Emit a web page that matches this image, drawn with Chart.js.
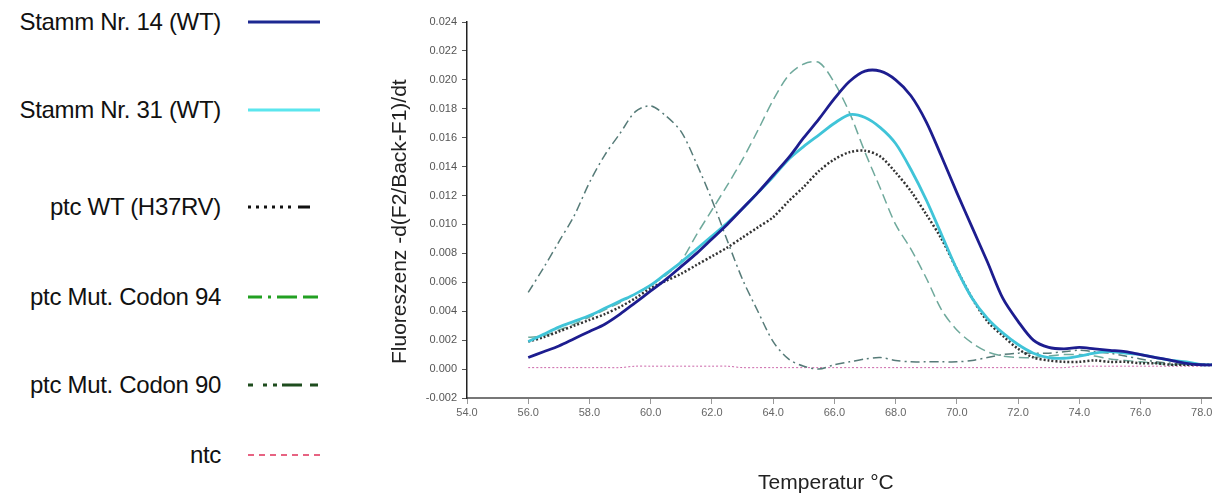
<!DOCTYPE html>
<html>
<head>
<meta charset="utf-8">
<script src="https://cdn.jsdelivr.net/npm/chart.js@4"></script>
<style>
  body { margin: 0; width: 1212px; height: 496px; overflow: hidden; background: #fff; position: relative;
         font-family: "Liberation Sans", Arial, sans-serif; }
  #legende { position: absolute; left: 0; top: 0; width: 340px; height: 496px; }
  .eintrag { position: absolute; left: 0; width: 340px; height: 30px; }
  .eintrag span { position: absolute; right: 119px; top: 0; line-height: 30px; font-size: 24px; color: #111;
                  white-space: nowrap; letter-spacing: -0.3px; }
  .eintrag svg { position: absolute; left: 248px; top: 10px; }
  #schmelzkurve { position: absolute; left: 340px; top: 0; }
</style>
</head>
<body>
<div id="legende"></div>
<canvas id="schmelzkurve" width="900" height="496"></canvas>
<script>
// Temperatur in °C
const temperaturen = [56, 56.5, 57, 57.5, 58, 58.5, 59, 59.5, 60, 60.5, 61, 61.5, 62, 62.5, 63, 63.5,
  64, 64.5, 65, 65.5, 66, 66.5, 67, 67.5, 68, 68.5, 69, 69.5, 70, 70.5, 71, 71.5, 72, 72.5, 73, 73.5,
  74, 74.5, 75, 75.5, 76, 76.5, 77, 77.5, 78, 78.5];

const stamm14 = [0.0008, 0.0012, 0.0016, 0.0021, 0.0026, 0.0031, 0.0038, 0.0046, 0.0054, 0.0062, 0.0071, 0.0080,
  0.0090, 0.0100, 0.0111, 0.0122, 0.0134, 0.0146, 0.0160, 0.0173, 0.0187, 0.0199, 0.0206, 0.0206, 0.0200, 0.0189,
  0.0171, 0.0147, 0.0122, 0.0098, 0.0074, 0.0049, 0.0033, 0.0020, 0.0015, 0.0014, 0.0015, 0.0014, 0.0013, 0.0012,
  0.0010, 0.0008, 0.0006, 0.0004, 0.0003, 0.0003];

const stamm31 = [0.0019, 0.0024, 0.0029, 0.0033, 0.0037, 0.0042, 0.0047, 0.0052, 0.0058, 0.0066, 0.0074, 0.0083,
  0.0092, 0.0101, 0.0111, 0.0122, 0.0133, 0.0145, 0.0154, 0.0162, 0.0170, 0.0176, 0.0174, 0.0167, 0.0156, 0.0138,
  0.0117, 0.0093, 0.0069, 0.0049, 0.0035, 0.0025, 0.0017, 0.0011, 0.0008, 0.00075, 0.0009, 0.0011, 0.0012, 0.0011,
  0.0010, 0.0008, 0.0006, 0.0005, 0.0003, 0.0003];

const ptcWT = [0.0019, 0.0022, 0.0026, 0.0030, 0.0034, 0.0038, 0.0043, 0.0049, 0.0056, 0.0061, 0.0066, 0.0072,
  0.0078, 0.0084, 0.0091, 0.0098, 0.0105, 0.0116, 0.0126, 0.0137, 0.0145, 0.0150, 0.0151, 0.0147, 0.0136, 0.0123,
  0.0107, 0.0090, 0.0069, 0.0049, 0.0033, 0.0023, 0.0014, 0.0008, 0.0006, 0.0005, 0.0005, 0.0006, 0.0005, 0.0005,
  0.0004, 0.0004, 0.0003, 0.0003, 0.0003, 0.0003];

const codon94 = [0.0022, 0.0023, 0.0027, 0.0031, 0.0036, 0.0041, 0.0046, 0.0052, 0.0058, 0.0065, 0.0075, 0.0093,
  0.0110, 0.0127, 0.0145, 0.0165, 0.0186, 0.0203, 0.0211, 0.0212, 0.0198, 0.0177, 0.0150, 0.0125, 0.0100, 0.0083,
  0.0063, 0.0041, 0.0027, 0.0018, 0.0012, 0.0009, 0.0008, 0.0008, 0.0009, 0.0010, 0.0010, 0.0009, 0.0007, 0.0006,
  0.0005, 0.0004, 0.0003, 0.0003, 0.0003, 0.0003];

const codon90 = [0.0053, 0.0070, 0.0088, 0.0106, 0.0129, 0.0148, 0.0163, 0.0178, 0.0182, 0.0175, 0.0164, 0.0142,
  0.0117, 0.0089, 0.0062, 0.0040, 0.0019, 0.0007, 0.0002, 0.0000, 0.0003, 0.0005, 0.0007, 0.0008, 0.0006, 0.0005,
  0.0005, 0.0005, 0.0005, 0.0006, 0.0008, 0.0010, 0.0011, 0.0011, 0.0011, 0.0012, 0.0013, 0.0012, 0.0011, 0.0009,
  0.0007, 0.0005, 0.0004, 0.0003, 0.0003, 0.0003];

const ntc = [0.0001, 0.0001, 0.0001, 0.0001, 0.0001, 0.0001, 0.0001, 0.0002, 0.0002, 0.0002, 0.0002, 0.0002,
  0.0002, 0.0002, 0.0001, 0.0001, 0.0001, 0.0001, 0.0001, 0.0001, 0.0001, 0.0001, 0.0001, 0.0001, 0.0001, 0.0001,
  0.0001, 0.0001, 0.0001, 0.0001, 0.0001, 0.0001, 0.0001, 0.0001, 0.0001, 0.0001, 0.0002, 0.0002, 0.0002, 0.0002,
  0.0002, 0.0002, 0.0002, 0.0002, 0.0002, 0.0002];

const namen = ['Stamm Nr. 14 (WT)', 'Stamm Nr. 31 (WT)', 'ptc WT (H37RV)', 'ptc Mut. Codon 94', 'ptc Mut. Codon 90', 'ntc'];
const serien = [stamm14, stamm31, ptcWT, codon94, codon90, ntc];

// Darstellung
const linienFarben = ['#1d1d8f', '#40c4d8', '#333333', '#6fa99c', '#567b78', '#cc66aa'];
const linienBreiten = [2.8, 2.8, 2.5, 1.5, 1.5, 1];
const linienStriche = [[], [], [2, 2], [10, 5], [9, 4, 2, 4], [2, 2]];
const legendeFarben = ['#1c2891', '#5be6ee', '#111111', '#22a022', '#1e4d1e', '#e0305a'];
const legendeStriche = ['', '', '3 5 3 5 3 5 3 5 3 5 3 7 12 50', '14 6 3 6 20 6 15 50', '5 10 4 6 4 5 20 8 8 50', '6 5'];
const legendeBreiten = [3, 3, 3, 3, 3, 1.5];
const legendeY = [22, 110, 207, 297, 385, 455];

const legende = document.getElementById('legende');
namen.forEach((name, i) => {
    const zeile = document.createElement('div');
    zeile.className = 'eintrag';
    zeile.style.top = (legendeY[i] - 15) + 'px';
    zeile.innerHTML = `<span>${name}</span>` +
        `<svg width="72" height="10"><line x1="0" y1="5" x2="72" y2="5" stroke="${legendeFarben[i]}" ` +
        `stroke-width="${legendeBreiten[i]}" stroke-dasharray="${legendeStriche[i]}"/></svg>`;
    legende.appendChild(zeile);
});

Chart.defaults.font.family = '"Liberation Sans", Arial, sans-serif';

const ctx = document.getElementById('schmelzkurve').getContext('2d');
new Chart(ctx, {
    type: 'line',
    data: {
        datasets: serien.map((werte, i) => ({
            label: namen[i],
            data: temperaturen.map((t, j) => ({ x: t, y: werte[j] })),
            borderColor: linienFarben[i],
            borderWidth: linienBreiten[i],
            borderDash: linienStriche[i],
            pointRadius: 0,
            tension: 0.3,
            fill: false
        }))
    },
    options: {
        responsive: false,
        animation: false,
        layout: { padding: { left: 48, top: 22, right: 26, bottom: 0 } },
        plugins: {
            legend: { display: false },
            tooltip: { enabled: false }
        },
        scales: {
            x: {
                type: 'linear',
                min: 54,
                max: 78.4,
                afterFit: scale => { scale.height = 98; },
                border: { color: '#777', width: 2 },
                grid: { drawOnChartArea: false, tickLength: 6, color: '#999' },
                ticks: {
                    stepSize: 2,
                    includeBounds: false,
                    autoSkip: false,
                    maxRotation: 0,
                    padding: 2,
                    color: '#666',
                    font: { size: 11 },
                    callback: v => v.toFixed(1)
                },
                title: {
                    display: true,
                    // nbsp am Ende verschiebt den Titel etwas nach links
                    text: 'Temperatur °C\u00a0\u00a0\u00a0\u00a0\u00a0',
                    color: '#222',
                    font: { size: 21 },
                    padding: { top: 0, bottom: 0 }
                }
            },
            y: {
                min: -0.002,
                max: 0.024,
                afterFit: scale => { scale.width = 79; },
                border: { color: '#222', width: 1.5 },
                grid: { drawOnChartArea: false, tickLength: 5, color: '#555' },
                ticks: {
                    stepSize: 0.002,
                    padding: 5,
                    color: '#555',
                    font: { size: 11 },
                    callback: v => v.toFixed(3)
                },
                title: {
                    display: true,
                    text: 'Fluoreszenz -d(F2/Back-F1)/dt\u00a0\u00a0\u00a0\u00a0',
                    color: '#222',
                    font: { size: 21 },
                    padding: { top: 0, bottom: 0 }
                }
            }
        }
    }
});
</script>
</body>
</html>
